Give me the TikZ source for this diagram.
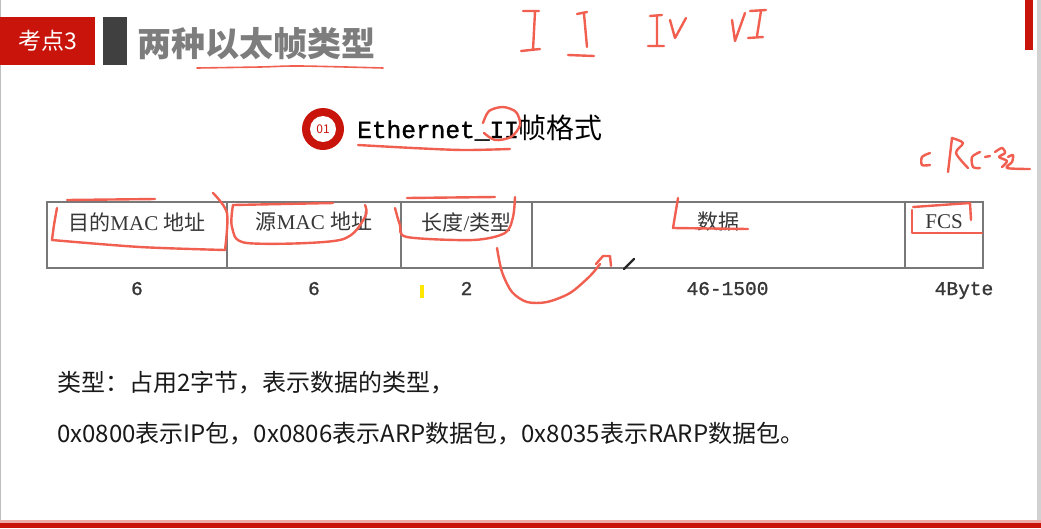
\documentclass[tikz,border=0pt]{standalone}
\usepackage{fontspec}
\setmainfont{Liberation Serif}
\newfontfamily\cjk{Noto Sans CJK SC}
\newfontfamily\mono[FakeBold=1.2]{Liberation Mono}
\usetikzlibrary{positioning,calc}
\definecolor{tagred}{RGB}{200,20,10}
\definecolor{bargray}{RGB}{64,64,64}
\definecolor{titlegray}{RGB}{125,125,125}
\definecolor{inkred}{RGB}{240,95,80}
\definecolor{linegray}{RGB}{120,120,120}
\definecolor{textgray}{RGB}{55,55,55}

\begin{document}
\begin{tikzpicture}[x=1pt, y=-1pt,
    cell/.style={draw=linegray, line width=1.1pt, minimum height=66pt, inner sep=0pt, outer sep=0pt},
    head/.style={font=\fontsize{21}{23}\selectfont, text=textgray, inner sep=0pt},
    num/.style={font=\mono\fontsize{19.5}{22}\selectfont, text=textgray, inner sep=0pt, anchor=base},
    note/.style={font=\cjk\fontsize{24}{26}\selectfont, text=black!90, anchor=west, inner sep=0pt},
    ink/.style={draw=inkred, line width=2.4pt, line cap=round, line join=round}
]
\useasboundingbox (0,0) rectangle (1041,528);
\fill[white] (0,0) rectangle (1041,528);
% frame of the slide
\fill[black!25] (0,0) rectangle (1.2,528);
\fill[black!18] (1037,0) rectangle (1041,528);
\fill[tagred!35] (0,520) rectangle (1041,523);
\fill[tagred] (0,523) rectangle (1041,528);
\fill[tagred] (1025,0) rectangle (1033,50);

% heading
\node[fill=tagred, minimum width=95pt, minimum height=48pt, text=white,
      font=\cjk\fontsize{23}{24}\selectfont] (tag) at (47.5,41) {考点3};
\node[fill=bargray, minimum width=24pt, minimum height=48pt, right=8pt of tag] (bar) {};
\node[font=\cjk\bfseries\fontsize{34}{36}\selectfont, text=titlegray, anchor=west,
      inner sep=0pt] (title) at (137,44) {两种以太帧类型};

% subheading
\node[circle, fill=tagred, minimum size=42pt] (badge) at (323,129) {};
\node[circle, fill=white, minimum size=26pt, inner sep=0pt, text=tagred,
      font=\cjk\fontsize{12}{12}\selectfont] (badgenum) at (badge) {01};
\node[anchor=base west, inner sep=0pt] (eth) at (357,138)
    {{\mono\fontsize{24.5}{26}\selectfont Ethernet\_II}{\cjk\fontsize{28}{30}\selectfont 帧格式}};

% frame fields
\node[cell, minimum width=180pt] (c1) at (137,235) {};
\node[cell, minimum width=174pt, right=0pt of c1] (c2) {};
\node[cell, minimum width=131pt, right=0pt of c2] (c3) {};
\node[cell, minimum width=373pt, right=0pt of c3] (c4) {};
\node[cell, minimum width=78pt, right=0pt of c4] (c5) {};

\node[head] (h1) at ([yshift=-20pt]c1.north) {{\cjk 目的}MAC {\cjk 地址}};
\node[head] (h2) at ([yshift=-20pt]c2.north) {{\cjk 源}MAC {\cjk 地址}};
\node[head] (h3) at ([yshift=-20pt]c3.north) {{\cjk 长度}/{\cjk 类型}};
\node[head] (h4) at ([yshift=-20pt]c4.north) {{\cjk 数据}};
\node[head] (h5) at ([yshift=-20pt]c5.north) {FCS};

\node[num] (n1) at ([yshift=-27pt]c1.south) {6};
\node[num] (n2) at ([yshift=-27pt]c2.south) {6};
\node[num] (n3) at ([yshift=-27pt]c3.south) {2};
\node[num] (n4) at ([xshift=9pt,yshift=-27pt]c4.south) {46-1500};
\node[num] (n5) at ([xshift=20pt,yshift=-27pt]c5.south) {4Byte};

% notes
\node[note] (note1) at (57,383) {类型：占用2字节，表示数据的类型，};
\node[note] (note2) at ([yshift=-51pt]note1.west) {0x0800表示IP包，0x0806表示ARP数据包，0x8035表示RARP数据包。};

% cursor marks
\fill[yellow!90!orange] (420,285) rectangle (423.5,298);
\draw[black!85, line width=2.2pt, line cap=round] (624,269) -- (634,259);

% handwriting
\draw[ink, line width=1.6pt] plot[smooth] coordinates {(197,68) (260,67) (300,66) (383,68)};
\draw[ink] (523,11) -- (539,11) (535,12) -- (533,50) (521,51) -- (540,49);
\draw[ink] (577,14) -- (587,12) (584,14) -- (587,47) (568,55) -- (594,56);
\draw[ink] (650,16) -- (662,15) (657,16) -- (657,45) (648,46) -- (664,46);
\draw[ink] (670,20) -- (675,38) -- (686,18);
\draw[ink] (732,20) -- (735,41) -- (745,13);
\draw[ink] (750,11) -- (766,10) (761,11) -- (757,36) (748,38) -- (763,37);
\draw[ink] plot[smooth] coordinates {(358,145) (413,148) (463,150) (510,149)};
\draw[ink] plot[smooth] coordinates {(483,123) (489,111) (503,107) (516,112) (520,125) (511,137) (495,140) (484,133)};
% CRC-32
\draw[ink] plot[smooth] coordinates {(930,153) (922,157) (922,165) (930,165)};
\draw[ink] (952,138) -- (948,172);
\draw[ink] plot[smooth] coordinates {(952,138) (963,143) (956,153) (968,168)};
\draw[ink] plot[smooth] coordinates {(980,152) (972,157) (973,167) (980,168)};
\draw[ink] (985,157) -- (990,156);
\draw[ink] plot[smooth] coordinates {(995,152) (1002,148) (1005,153) (999,157) (1007,161) (1002,167)};
\draw[ink] plot[smooth] coordinates {(1008,157) (1013,155) (1012,162) (1007,168) (1030,169)};
% field marks
\draw[ink] (67,200) -- (155,199);
\draw[ink] plot[smooth] coordinates {(57,208) (54,225) (52,240)};
\draw[ink] plot[smooth] coordinates {(52,240) (140,247) (225,250)};
\draw[ink] plot[smooth] coordinates {(213,193) (227,213) (225,250)};
\draw[ink] plot[smooth] coordinates {(233,205) (333,203)};
\draw[ink] plot[smooth] coordinates {(233,205) (232,227) (247,243) (340,240) (365,217) (365,205)};
\draw[ink] (407,198) -- (495,197);
\draw[ink] plot[smooth] coordinates {(395,208) (400,225) (407,237) (473,240) (505,233) (513,217) (515,197)};
\draw[ink] plot[smooth] coordinates {(497,248) (502,272) (512,292) (527,302) (547,302) (570,293) (590,276) (600,264)};
\draw[ink] (596,264) -- (603,256) -- (610,256) -- (611,266);
\draw[ink] (678,198) -- (673,228) -- (748,229);
\draw[ink] (913,207) -- (970,203) -- (971,220);
\draw[ink] (912,210) -- (912,233) -- (982,233);
\end{tikzpicture}
\end{document}
